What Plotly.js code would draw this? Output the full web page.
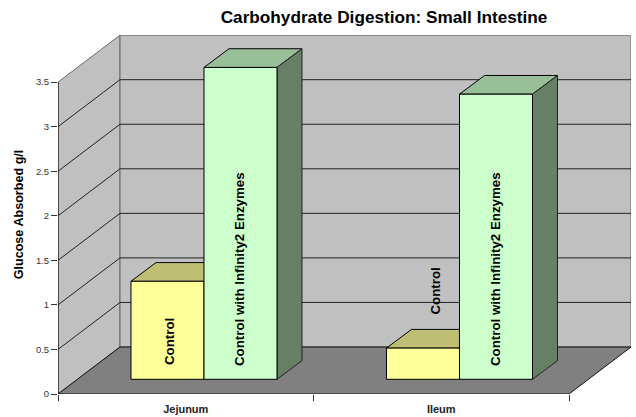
<!DOCTYPE html>
<html><head><meta charset="utf-8">
<script src="https://cdn.plot.ly/plotly-3.0.0.min.js"></script>
<style>html,body{margin:0;padding:0;background:#fff}</style></head>
<body><div id="chart" style="width:636px;height:417px"></div>
<script>
// ---- data ----
var categories = ['Jejunum', 'Ileum'];
var controlValues = [1.1, 0.35];
var enzymeValues = [3.5, 3.2];
var controlLabel = 'Control';
var enzymeLabel = 'Control with Infinity2 Enzymes';
var yTicks = [0, 0.5, 1, 1.5, 2, 2.5, 3, 3.5];
var yTickText = ['0', '0.5', '1', '1.5', '2', '2.5', '3', '3.5'];
var chartTitle = 'Carbohydrate Digestion: Small Intestine';
var yTitle = 'Glucose Absorbed g/l';

// ---- pseudo-3D projection, expressed in axis units ----
var W = 636, H = 417, mL = 58, mR = 5, mT = 35, mB = 23;
var pxPerCat = 255.5, pxPerUnit = 89.1;
var xMax = (W - mL - mR) / pxPerCat, yMax = (H - mT - mB) / pxPerUnit;
var wallDX = 62 / pxPerCat, wallDY = 47 / pxPerUnit;      // depth of the floor
var barShiftX = 0.0714, barShiftY = 14.7 / pxPerUnit;     // bars stand inside the floor
var barW = 73 / pxPerCat;
var barDX = 25 / pxPerCat, barDY = 18.7 / pxPerUnit;      // depth of a bar
var yTop = yTicks[yTicks.length - 1], nCat = categories.length;
var traces = [];

function poly(xs, ys, fill, line, z, w) {
  traces.push({type: 'scatter', mode: 'lines', x: xs, y: ys, fill: fill ? 'toself' : 'none',
    fillcolor: fill || undefined, line: {color: line, width: w || 1}, zorder: z,
    cliponaxis: false, hoverinfo: 'skip', showlegend: false});
}
// walls and floor
poly([0, wallDX, wallDX, 0, 0], [0, wallDY, yTop + wallDY, yTop, 0], '#C0C0C0', '#666666', 0);
poly([wallDX, nCat + wallDX, nCat + wallDX, wallDX, wallDX], [wallDY, wallDY, yTop + wallDY, yTop + wallDY, wallDY], '#C0C0C0', '#666666', 0);
poly([0, nCat, nCat + wallDX, wallDX, 0], [0, 0, wallDY, wallDY, 0], '#808080', '#111111', 0);
// gridlines
yTicks.slice(1, -1).forEach(function (v) {
  poly([0, wallDX, nCat + wallDX], [v, v + wallDY, v + wallDY], null, '#222222', 0);
});
// front wall edge
poly([0, 0], [0, yTop], null, '#000000', 0);

// 3D faces of bars, and the front faces as real bars
function addSeries(values, slot, front, topCol, sideCol, name) {
  var xs = [];
  categories.forEach(function (c, i) {
    var x0 = i + 0.5 + barShiftX + (slot - 1) * barW;
    var x1 = x0 + barW, y0 = barShiftY, y1 = barShiftY + values[i];
    poly([x0, x1, x1 + barDX, x0 + barDX, x0], [y1, y1, y1 + barDY, y1 + barDY, y1], topCol, '#000000', 1);
    poly([x1, x1 + barDX, x1 + barDX, x1, x1], [y0, y0 + barDY, y1 + barDY, y1, y0], sideCol, '#222222', 1);
    xs.push(x0);
  });
  traces.push({type: 'bar', x: xs, y: values, base: barShiftY, width: barW, offset: 0,
    name: name, marker: {color: front, line: {color: '#000000', width: 1}}, zorder: 2,
    hoverinfo: 'skip', showlegend: false});
}
addSeries(controlValues, 0, '#FFFF99', '#BFBF73', '#808050', controlLabel);
addSeries(enzymeValues, 1, '#CCFFCC', '#99BF99', '#668066', enzymeLabel);

var fam = 'Liberation Sans, Arial, sans-serif';
function barLabel(text, xv, yv) {
  return {text: '<b>' + text + '</b>', x: xv, y: yv, xref: 'x', yref: 'y', textangle: -90, showarrow: false,
          xanchor: 'center', yanchor: 'bottom', font: {family: fam, size: 13.3, color: '#000'}};
}
var px = function (p) { return (p - mL) / pxPerCat; };
var py = function (p) { return (H - mB - p) / pxPerUnit; };

var layout = {
  width: W, height: H, paper_bgcolor: '#fff', plot_bgcolor: 'rgba(0,0,0,0)',
  margin: {l: mL, r: mR, t: mT, b: mB, pad: 0}, showlegend: false,
  font: {family: fam, color: '#000'},
  title: {text: '<b>' + chartTitle + '</b>', x: 384 / W, xanchor: 'center', y: 1 - 17 / H, yanchor: 'middle',
          font: {size: 17.2, color: '#000'}},
  xaxis: {range: [0, xMax], tickmode: 'array', tickvals: [0.5, 1.5],
          ticktext: categories.map(function (c) { return '<b>' + c + '</b>'; }),
          ticks: '', showgrid: false, zeroline: false, showline: false, ticklabelstandoff: 7,
          tickfont: {size: 11, color: '#222'},
          minor: {tickmode: 'array', tickvals: [0, 1, 2], ticks: 'outside', ticklen: 6, tickcolor: '#333', tickwidth: 1, showgrid: false}},
  yaxis: {range: [0, yMax], tickmode: 'array', tickvals: yTicks, ticktext: yTickText, ticks: 'outside',
          ticklen: 6, tickcolor: '#333', tickwidth: 1, showgrid: false, zeroline: false, showline: false,
          tickfont: {size: 9.5, color: '#333'},
          title: {text: '<b>' + yTitle + '</b>', font: {size: 12.6, color: '#000'}, standoff: 9}},
  annotations: [
    barLabel(controlLabel, px(169.5), py(367)),
    barLabel(enzymeLabel, px(239), py(368)),
    barLabel(controlLabel, px(435), py(317)),
    barLabel(enzymeLabel, px(495), py(368))
  ]
};
Plotly.newPlot('chart', traces, layout, {displayModeBar: false, responsive: false, staticPlot: true});
</script></body></html>
